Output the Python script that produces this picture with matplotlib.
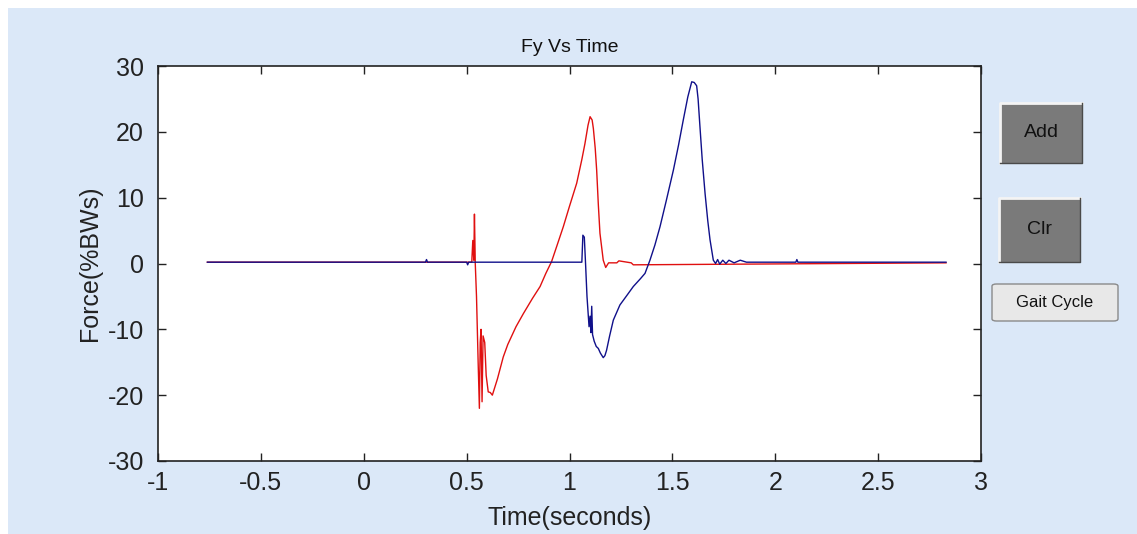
import matplotlib
matplotlib.use('Agg')
import matplotlib.pyplot as plt
from matplotlib.patches import Rectangle, FancyBboxPatch
from matplotlib.lines import Line2D

# left foot (red) Fy trace, % body weight
red_t = [-0.76, 0.525, 0.530, 0.535, 0.538, 0.542, 0.548, 0.556, 0.562, 0.566,
         0.570, 0.575, 0.580, 0.588, 0.595, 0.605, 0.615, 0.625, 0.635, 0.650,
         0.678, 0.700, 0.740, 0.776, 0.820, 0.857, 0.885, 0.913, 0.940, 0.970,
         1.000, 1.035, 1.060, 1.075, 1.090, 1.100, 1.110, 1.116, 1.125, 1.132,
         1.140, 1.148, 1.164, 1.176, 1.190, 1.230, 1.240, 1.300, 1.310, 2.83]
red_f = [0.2, 0.2, 3.5, 0.5, 7.5, 0.0, -5.0, -15.0, -22.0, -12.0,
         -10.0, -21.0, -11.0, -12.0, -17.0, -19.5, -19.6, -20.0, -19.0, -17.5,
         -14.2, -12.3, -9.6, -7.6, -5.3, -3.5, -1.5, 0.3, 2.8, 5.6,
         8.7, 12.2, 15.8, 18.2, 21.0, 22.3, 21.8, 20.5, 17.5, 14.2,
         9.0, 4.6, 0.5, -0.6, 0.1, 0.1, 0.4, 0.1, -0.2, 0.1]

# right foot (blue) Fy trace
blue_t = [-0.76, 0.30, 0.305, 0.31, 0.50, 0.505, 0.51, 1.060, 1.065, 1.072,
          1.078, 1.085, 1.095, 1.100, 1.104, 1.108, 1.112, 1.120, 1.130, 1.140,
          1.150, 1.164, 1.172, 1.180, 1.195, 1.213, 1.245, 1.280, 1.310, 1.345,
          1.367, 1.391, 1.415, 1.440, 1.470, 1.505, 1.530, 1.553, 1.575, 1.594,
          1.606, 1.618, 1.625, 1.634, 1.645, 1.659, 1.672, 1.683, 1.699, 1.710,
          1.720, 1.730, 1.745, 1.760, 1.775, 1.800, 1.830, 1.860, 2.100, 2.105,
          2.110, 2.83]
blue_f = [0.2, 0.2, 0.6, 0.2, 0.2, -0.2, 0.2, 0.2, 4.3, 4.0,
          0.0, -5.0, -9.6, -8.0, -10.5, -6.5, -10.8, -11.8, -12.6, -12.9,
          -13.6, -14.3, -14.0, -13.2, -11.0, -8.6, -6.3, -4.8, -3.5, -2.3,
          -1.5, 0.5, 2.8, 5.6, 9.5, 14.2, 18.0, 21.8, 25.3, 27.6,
          27.5, 27.0, 25.0, 20.8, 15.8, 10.6, 6.5, 3.6, 0.5, 0.0,
          0.6, -0.1, 0.5, 0.0, 0.5, 0.1, 0.5, 0.2, 0.2, 0.6,
          0.2, 0.2]

x_ticks = [-1, -0.5, 0, 0.5, 1, 1.5, 2, 2.5, 3]
x_labels = ['-1', '-0.5', '0', '0.5', '1', '1.5', '2', '2.5', '3']
y_ticks = [-30, -20, -10, 0, 10, 20, 30]
y_labels = ['-30', '-20', '-10', '0', '10', '20', '30']

W, H = 1137, 534
BG = '#dbe8f8'

plt.rcParams['font.family'] = ['Liberation Sans', 'DejaVu Sans']

fig = plt.figure(figsize=(W / 100, H / 100), dpi=100, facecolor='white')


def px_rect(x0, y0, x1, y1):
    # pixel box (top-left origin) -> figure fraction (x, y, w, h)
    return x0 / W, 1 - y1 / H, (x1 - x0) / W, (y1 - y0) / H


bx, by, bw, bh = px_rect(8, 8, W, H)
fig.add_artist(Rectangle((bx, by), bw, bh, transform=fig.transFigure,
                         facecolor=BG, edgecolor='none', zorder=0))

ax = fig.add_axes([158 / W, 1 - 461 / H, (981 - 158) / W, (461 - 66) / H])
ax.set_facecolor('white')
ax.plot(red_t, red_f, color='#e01010', lw=1.0)
ax.plot(blue_t, blue_f, color='#10108a', lw=1.0)
ax.set_xlim(-1, 3)
ax.set_ylim(-30, 30)
ax.set_xticks(x_ticks)
ax.set_xticklabels(x_labels)
ax.set_yticks(y_ticks)
ax.set_yticklabels(y_labels)
ax.tick_params(direction='in', length=6, width=1, top=True, right=True,
               labelsize=18, colors='#222222')
ax.tick_params(axis='y', pad=10)
ax.tick_params(axis='x', pad=7)
for s in ax.spines.values():
    s.set_linewidth(1.2)
    s.set_color('#222222')
ax.set_title('Fy Vs Time', fontsize=14, color='#111111', pad=10)
ax.set_xlabel('Time(seconds)', fontsize=18, color='#222222', labelpad=8)
ax.set_ylabel('Force(%BWs)', fontsize=18, color='#222222', labelpad=4)


def button(x0, y0, x1, y1, label):
    x, y, w, h = px_rect(x0, y0, x1, y1)
    fig.add_artist(Rectangle((x, y), w, h, transform=fig.transFigure,
                             facecolor='#7a7a7a', edgecolor='none'))
    fig.add_artist(Line2D([x, x, x + w], [y, y + h, y + h], transform=fig.transFigure,
                          color='#f4f4f4', lw=2))
    fig.add_artist(Line2D([x, x + w, x + w], [y, y, y + h], transform=fig.transFigure,
                          color='#4a4a4a', lw=1))
    fig.text(x + w / 2, y + h / 2, label, ha='center', va='center',
             fontsize=14, color='#111111')


button(1000, 103, 1082, 163, 'Add')
button(999, 198, 1080, 262, 'Clr')

gx, gy, gw, gh = px_rect(992, 284, 1118, 321)
fig.add_artist(FancyBboxPatch((gx, gy), gw, gh, transform=fig.transFigure,
                              boxstyle='round,pad=0,rounding_size=0.004',
                              facecolor='#e8e8e8', edgecolor='#8a8a8a', lw=1))
fig.text(gx + gw / 2, gy + gh / 2, 'Gait Cycle', ha='center', va='center',
         fontsize=12, color='#111111')

fig.savefig('out.png', dpi=100, facecolor='white')
